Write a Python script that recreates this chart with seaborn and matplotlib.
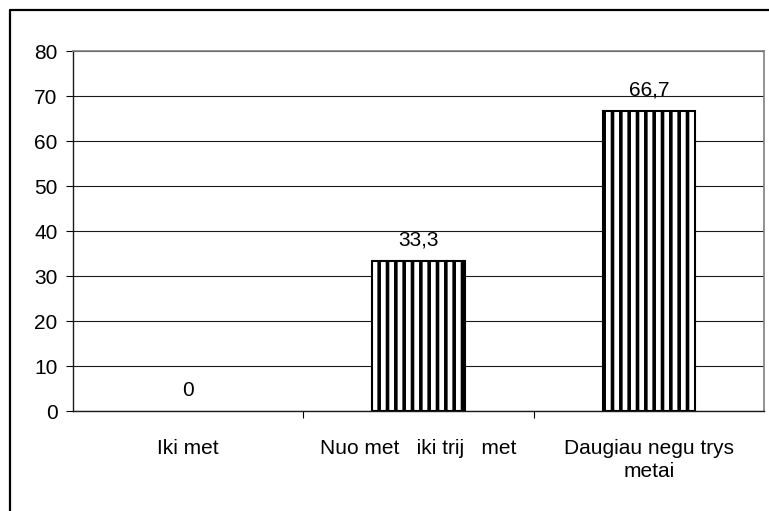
import matplotlib
matplotlib.use("Agg")
import matplotlib.pyplot as plt
from matplotlib.lines import Line2D
import seaborn as sns
import pandas as pd

categories = ["Iki met", "Nuo met   iki trij   met", "Daugiau negu trys\nmetai"]
values = [0, 33.3, 66.7]
y_ticks = [0, 10, 20, 30, 40, 50, 60, 70, 80]

sns.set_theme(style="white")
plt.rcParams["font.family"] = ["Liberation Sans", "DejaVu Sans"]
plt.rcParams["hatch.linewidth"] = 2.6
plt.rcParams["hatch.color"] = "black"

df = pd.DataFrame({"category": categories, "value": values})

fig = plt.figure(figsize=(7.69, 5.11), dpi=100)
fig.patch.set_facecolor("white")
ax = fig.add_axes([73 / 769, 1 - 411 / 511, (764 - 73) / 769, (411 - 51) / 511])

sns.barplot(data=df, x="category", y="value", ax=ax, color="white",
            edgecolor="black", linewidth=1.5, width=0.4, hatch="||",
            errorbar=None, zorder=3)

# a zero-height bar leaves no visible outline
for patch in ax.patches:
    if patch.get_height() == 0:
        patch.set_linewidth(0)

ax.set_xlim(-0.5, len(categories) - 0.5)
ax.set_ylim(0, 80)
ax.set_yticks(y_ticks)
ax.set_yticklabels([str(t) for t in y_ticks])
ax.yaxis.grid(True, color="#1a1a1a", linewidth=0.8, zorder=0)
ax.set_axisbelow(True)
ax.set_xlabel("")
ax.set_ylabel("")

# category separators as minor ticks on the x axis
ax.set_xticks([i + 0.5 for i in range(len(categories) - 1)], minor=True)
ax.tick_params(axis="x", which="major", length=0, pad=20, labelsize=15,
               labelcolor="black")
ax.tick_params(axis="x", which="minor", length=5, width=0.8, color="black",
               direction="out", bottom=True)
ax.tick_params(axis="y", which="major", length=5, width=0.8, color="black",
               direction="out", left=True, pad=6, labelsize=15,
               labelcolor="black")
for lbl in ax.get_xticklabels():
    lbl.set_linespacing(1.3)

for side in ["left", "bottom"]:
    ax.spines[side].set_color("#1a1a1a")
    ax.spines[side].set_linewidth(1.0)
for side in ["top", "right"]:
    ax.spines[side].set_color("#7f7f7f")
    ax.spines[side].set_linewidth(1.2)

for i, v in enumerate(values):
    ax.annotate(f"{v:g}".replace(".", ","), xy=(i, v), xytext=(0, 15),
                textcoords="offset points", ha="center", va="center",
                fontsize=15, color="black")

# outer chart frame
fig.add_artist(Line2D([10 / 769, 10 / 769], [0, 1 - 10 / 511],
                      transform=fig.transFigure, color="black", linewidth=1.6))
fig.add_artist(Line2D([10 / 769, 1], [1 - 10 / 511, 1 - 10 / 511],
                      transform=fig.transFigure, color="black", linewidth=1.6))

fig.savefig("out.png", dpi=100, facecolor="white")
